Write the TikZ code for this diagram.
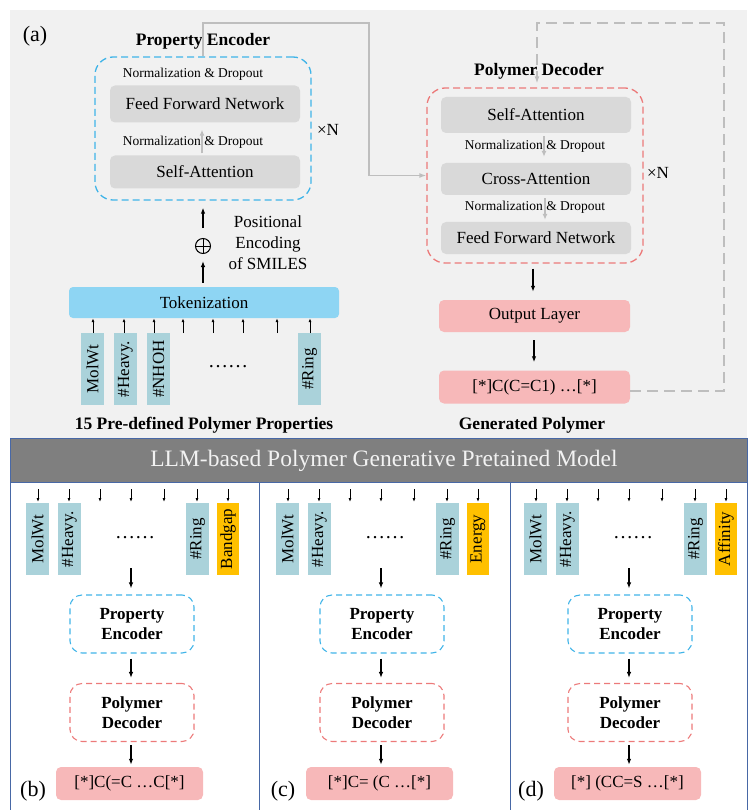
\documentclass[tikz,border=0pt]{standalone}
\usepackage{fontspec}
\setmainfont{Liberation Serif}
\usetikzlibrary{arrows.meta}
\definecolor{bgc}{RGB}{241,241,241}
\definecolor{boxgray}{RGB}{217,217,217}
\definecolor{encc}{RGB}{64,180,232}
\definecolor{decc}{RGB}{236,122,122}
\definecolor{tokc}{RGB}{142,213,243}
\definecolor{propc}{RGB}{170,210,218}
\definecolor{pinkc}{RGB}{247,184,185}
\definecolor{orangec}{RGB}{255,192,0}
\definecolor{glinec}{RGB}{190,190,190}
\definecolor{hdrc}{RGB}{127,127,127}
\definecolor{hdrtext}{RGB}{242,242,242}
\definecolor{panc}{RGB}{72,104,166}
\newcommand\fsz[2]{\fontsize{#1}{#2}\selectfont}
\newcommand\subpanel[5]{%
\begin{scope}[xshift=#1, name prefix=#2-]
  \foreach \x in {38,69,100,131,164,197,228} \draw[sarr] (\x,489) -- (\x,502);
  \node[propbox] (p1) at (37.5,539) {MolWt};
  \node[propbox] (p2) at (69.5,539) {\#Heavy.};
  \node[propbox] (p3) at (197.5,539) {\#Ring};
  \node[propbox, fill=orangec, minimum height=22] (p4) at (228,539) {#3};
  \node[font=\fsz{20}{20}, inner sep=0] (dots) at (135,538) {……};
  \coordinate (a0) at (131,568);
  \node[dbox, draw=encc] (enc) at (132,624) {Property\\Encoder};
  \node[dbox, draw=decc] (dec) at (132,712.5) {Polymer\\Decoder};
  \node[pbox, minimum width=147, minimum height=33] (smi) at (129.5,783.5) {#4};
  \draw[barr, shorten >=6pt] (a0) -- (a0 |- enc.north);
  \draw[barr, shorten <=5pt, shorten >=5pt] (enc.south -| a0) -- (dec.north -| a0);
  \draw[barr, shorten <=3pt, shorten >=2pt] (dec.south -| a0) -- (smi.north -| a0);
  \node[font=\fsz{22}{22}] (lab) at (33,791) {(#5)};
\end{scope}}
\begin{document}
\begin{tikzpicture}[x=1pt,y=-1pt,
  barr/.style={line width=1.3pt, -{Latex[length=6pt,width=4.5pt]}},
  sarr/.style={line width=0.8pt, -{Latex[length=4pt,width=3pt]}},
  garr/.style={line width=1.5pt, glinec, -{Latex[length=6pt,width=5pt]}},
  gline/.style={line width=1.5pt, glinec, -{Latex[length=7pt,width=5pt]}},
  gbox/.style={fill=boxgray, rounded corners=5pt, minimum width=190, inner sep=0, font=\fsz{17}{17}},
  pbox/.style={fill=pinkc, rounded corners=5pt, inner sep=0, font=\fsz{17}{17}},
  propbox/.style={fill=propc, minimum width=72, minimum height=23, inner sep=0, rotate=90, font=\fsz{17}{17}},
  dbox/.style={line width=1.1pt, dash pattern=on 6pt off 4pt, rounded corners=12pt, minimum width=124, minimum height=58, align=center, inner sep=0, font=\bfseries\fsz{17}{20}},
  bigbox/.style={line width=1.3pt, dash pattern=on 7pt off 4pt, rounded corners=18pt, minimum width=216, inner sep=0},
  small/.style={font=\fsz{13.5}{13.5}, inner sep=0},
  ttl/.style={font=\bfseries\fsz{17.5}{17.5}, inner sep=0},
  oplus/.style={circle, draw, line width=1pt, minimum size=15, inner sep=0,
    path picture={\draw[line width=1pt] (path picture bounding box.north) -- (path picture bounding box.south) (path picture bounding box.west) -- (path picture bounding box.east);}}
]
\useasboundingbox (0,0) rectangle (747,810);
% ---------- panel (a)
\fill[bgc] (10,10) rectangle (747,438);
\node[font=\fsz{22}{22}] (la) at (35,36) {(a)};
\node[ttl] (enctitle) at (203,41) {Property Encoder};
\node[bigbox, draw=encc, minimum height=143] (enc) at (203,128.5) {};
\node[small] (n1) at (193,74) {Normalization \& Dropout};
\node[gbox, minimum height=37] (ffn) at (205,104) {Feed Forward Network};
\node[small] (n2) at (193,142) {Normalization \& Dropout};
\node[gbox, minimum height=33] (sa) at (205,172) {Self-Attention};
\draw[garr] ([xshift=-3pt,yshift=2pt]sa.north) -- ([xshift=-3pt,yshift=-7pt]ffn.south);
\node[font=\fsz{17}{17}] (xn1) at (328,130) {×N};

\node[oplus] (plus) at (203,246) {};
\node[align=center, font=\fsz{17}{21}] (pos) at (268,243) {Positional\\Encoding\\of SMILES};
\node[fill=tokc, rounded corners=4pt, minimum width=270, minimum height=31, inner sep=0, font=\fsz{17}{17}] (tok) at (204,302.5) {Tokenization};
\draw[barr, shorten <=4pt, shorten >=7pt] (tok.north -| plus) -- (plus.south);
\draw[barr, shorten <=10pt, shorten >=7pt] (plus.north) -- (enc.south -| plus);

\node[propbox] (q1) at (92.5,369) {MolWt};
\node[propbox] (q2) at (125.5,369) {\#Heavy.};
\node[propbox] (q3) at (158.5,369) {\#NHOH};
\node[propbox] (q4) at (309.5,369) {\#Ring};
\node[font=\fsz{20}{20}, inner sep=0] (qdots) at (228,367) {……};
\foreach \x in {93,124,154,183,213,243,277,310} \draw[sarr] (\x,333) -- (\x,333 |- tok.south);
\node[ttl] (propt) at (204,425) {15 Pre-defined Polymer Properties};

\node[ttl] (dect) at (539,71) {Polymer Decoder};
\node[bigbox, draw=decc, minimum height=175] (dec) at (535,175.5) {};
\node[gbox, minimum height=36] (sa2) at (536,115) {Self-Attention};
\node[small] (n3) at (535,146) {Normalization \& Dropout};
\node[gbox, minimum height=32] (ca) at (536,179) {Cross-Attention};
\node[small] (n4) at (535,207) {Normalization \& Dropout};
\node[gbox, minimum height=32] (ffn2) at (536,238) {Feed Forward Network};
\draw[garr] ([xshift=8pt,yshift=-3pt]sa2.south) -- ([xshift=8pt,yshift=6pt]ca.north);
\draw[garr] ([xshift=9pt,yshift=-3pt]ca.south) -- ([xshift=9pt,yshift=2pt]ffn2.north);
\node[font=\fsz{17}{17}] (xn2) at (658,173) {×N};
\node[pbox, minimum width=191, minimum height=32] (outl) at (534.5,316) {Output Layer};
\node[pbox, minimum width=191, minimum height=33] (smi) at (534.5,387) {[*]C(C=C1) …[*]};
\draw[barr, shorten <=5pt, shorten >=8pt] ([xshift=-2pt]dec.south) -- ([xshift=-1.5pt]outl.north);
\draw[barr, shorten <=8pt, shorten >=8pt] ([xshift=-0.5pt]outl.south) -- ([xshift=-0.5pt]smi.north);
\node[ttl] (genp) at (532,425) {Generated Polymer};

\draw[gline] (enc.north) |- (369,23) |- (dec.west);
\draw[gline, dash pattern=on 11pt off 6pt, shorten >=4pt] ([yshift=-4pt]smi.east) -| (724,23) -| ([xshift=2pt]dec.north);

% ---------- header
\fill[hdrc] (10,438) rectangle (747,482);
\draw[panc, line width=1pt] (10,438) rectangle (747,482);
\node[text=hdrtext, font=\fsz{23.5}{23.5}] (hdr) at (384,461) {LLM-based Polymer Generative Pretained Model};

% ---------- panels (b)-(d)
\draw[panc, line width=1pt] (10,482) rectangle (259,810);
\draw[panc, line width=1pt] (259,482) rectangle (510,810);
\draw[panc, line width=1pt] (510,482) rectangle (747,810);
\subpanel{0}{b}{Bandgap}{[*]C(=C …C[*]}{b}
\subpanel{250}{c}{Energy}{[*]C= (C …[*]}{c}
\subpanel{498}{d}{Affinity}{[*] (CC=S …[*]}{d}
\end{tikzpicture}
\end{document}
